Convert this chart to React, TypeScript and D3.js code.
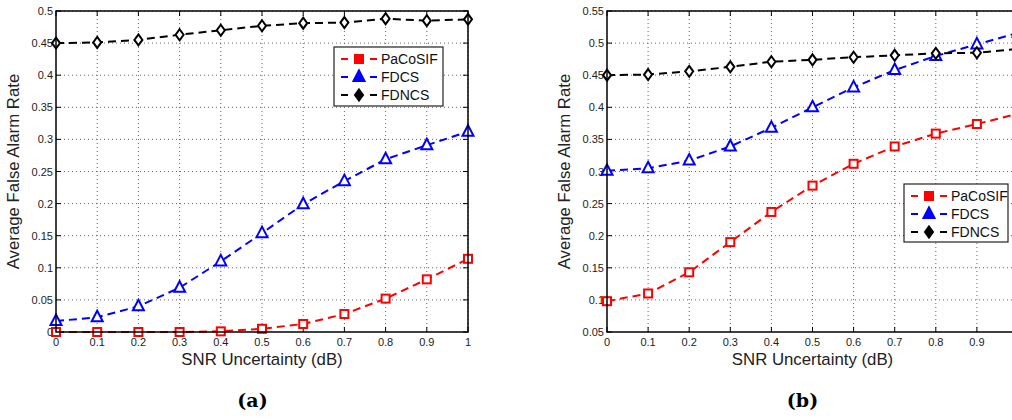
import React from 'react';
import * as d3 from 'd3';

const xValues = [0, 0.1, 0.2, 0.3, 0.4, 0.5, 0.6, 0.7, 0.8, 0.9, 1.0];

const aPaCoSIF = [0, 0, 0, 0, 0.001, 0.005, 0.0125, 0.028, 0.052, 0.082, 0.114];
const aFDCS = [0.017, 0.023, 0.04, 0.069, 0.11, 0.154, 0.199, 0.235, 0.269, 0.291, 0.312];
const aFDNCS = [0.45, 0.451, 0.455, 0.463, 0.47, 0.477, 0.481, 0.482, 0.488, 0.485, 0.487];

const bPaCoSIF = [0.098, 0.11, 0.143, 0.19, 0.237, 0.278, 0.312, 0.339, 0.359, 0.374, 0.39];
const bFDCS = [0.301, 0.305, 0.317, 0.339, 0.368, 0.4, 0.431, 0.458, 0.48, 0.498, 0.516];
const bFDNCS = [0.45, 0.451, 0.456, 0.463, 0.471, 0.474, 0.478, 0.481, 0.484, 0.485, 0.491];

const seriesNames = ['PaCoSIF', 'FDCS', 'FDNCS'];
const seriesColors = ['#ff0000', '#0000ff', '#000000'];
const seriesMarkers = ['square', 'triangle', 'diamond'];

const xTicks = [0, 0.1, 0.2, 0.3, 0.4, 0.5, 0.6, 0.7, 0.8, 0.9, 1];
const aYTicks = [0, 0.05, 0.1, 0.15, 0.2, 0.25, 0.3, 0.35, 0.4, 0.45, 0.5];
const bYTicks = [0.05, 0.1, 0.15, 0.2, 0.25, 0.3, 0.35, 0.4, 0.45, 0.5, 0.55];

const FONT = 'Liberation Sans, Arial, Helvetica, sans-serif';
const WIDTH = 1012;

function Marker({ type, x, y, color, filled }: { type: string; x: number; y: number; color: string; filled?: boolean }) {
  const fill = filled ? color : 'white';
  if (type === 'square') {
    return <rect x={x - 4} y={y - 4} width={8} height={8} fill={fill} stroke={color} strokeWidth={2} />;
  }
  if (type === 'triangle') {
    const s = 5.5;
    return <path d={`M${x},${y - s - 1}L${x + s},${y + s - 1.5}L${x - s},${y + s - 1.5}Z`} fill={fill} stroke={color} strokeWidth={2} />;
  }
  return <path d={`M${x},${y - 5.5}L${x + 4},${y}L${x},${y + 5.5}L${x - 4},${y}Z`} fill={fill} stroke={color} strokeWidth={2} />;
}

function Panel({ x0, x1, y0, y1, yDomain, yTicks, data, legend, label, labelX }: any) {
  const xs = d3.scaleLinear().domain([0, 1]).range([x0, x1]);
  const ys = d3.scaleLinear().domain(yDomain).range([y1, y0]);
  const line = d3.line<number>().x((_, i) => xs(xValues[i])).y((d) => ys(d));
  const fmt = (v: number) => String(+v.toFixed(2));
  const tickLen = 5;
  const cx = (x0 + x1) / 2;
  const cy = (y0 + y1) / 2;
  return (
    <g>
      {/* grid */}
      {xTicks.slice(1).map((t) => (
        <line key={'gx' + t} x1={xs(t)} x2={xs(t)} y1={y0} y2={y1} stroke="#666" strokeWidth={1} strokeDasharray="1,3" />
      ))}
      {yTicks.slice(1).map((t: number) => (
        <line key={'gy' + t} x1={x0} x2={x1} y1={ys(t)} y2={ys(t)} stroke="#666" strokeWidth={1} strokeDasharray="1,3" />
      ))}
      {/* ticks */}
      {xTicks.map((t) => (
        <g key={'tx' + t}>
          <line x1={xs(t)} x2={xs(t)} y1={y1} y2={y1 - tickLen} stroke="#000" />
          <line x1={xs(t)} x2={xs(t)} y1={y0} y2={y0 + tickLen} stroke="#000" />
          {xs(t) + 4 < WIDTH && (
            <text x={xs(t)} y={y1 + 14} textAnchor="middle" fontSize={11} fontFamily={FONT} fill="#222">{fmt(t)}</text>
          )}
        </g>
      ))}
      {yTicks.map((t: number) => (
        <g key={'ty' + t}>
          <line x1={x0} x2={x0 + tickLen} y1={ys(t)} y2={ys(t)} stroke="#000" />
          <line x1={x1} x2={x1 - tickLen} y1={ys(t)} y2={ys(t)} stroke="#000" />
          <text x={x0 - 3} y={ys(t) + 4} textAnchor="end" fontSize={11} fontFamily={FONT} fill="#222">{fmt(t)}</text>
        </g>
      ))}
      {/* lines */}
      {data.map((vals: number[], si: number) => (
        <g key={'s' + si}>
          <path d={line(vals) || ''} fill="none" stroke={seriesColors[si]} strokeWidth={2} strokeDasharray="8,5" />
          {vals.map((v, i) => (
            <Marker key={i} type={seriesMarkers[si]} x={xs(xValues[i])} y={ys(v)} color={seriesColors[si]} />
          ))}
        </g>
      ))}
      {/* frame */}
      <rect x={x0} y={y0} width={x1 - x0} height={y1 - y0} fill="none" stroke="#000" strokeWidth={1.5} />
      {/* legend */}
      <g>
        <rect x={legend.x} y={legend.y} width={legend.w} height={legend.h} fill="white" stroke="#222" strokeWidth={1.2} />
        {seriesNames.map((n, i) => {
          const ly = legend.y + 12 + i * 18;
          return (
            <g key={n}>
              <line x1={legend.x + 7} x2={legend.x + 14} y1={ly} y2={ly} stroke={seriesColors[i]} strokeWidth={2} />
              <line x1={legend.x + 36} x2={legend.x + 43} y1={ly} y2={ly} stroke={seriesColors[i]} strokeWidth={2} />
              <Marker type={seriesMarkers[i]} x={legend.x + 25} y={ly} color={seriesColors[i]} filled />
              <text x={legend.x + 47} y={ly + 5} fontSize={14} fontFamily={FONT} fill="#111">{n}</text>
            </g>
          );
        })}
      </g>
      {/* axis labels */}
      <text x={cx} y={y1 + 33} textAnchor="middle" fontSize={16.8} fontFamily={FONT} fill="#222">SNR Uncertainty (dB)</text>
      <text transform={`translate(${x0 - 37},${cy}) rotate(-90)`} textAnchor="middle" fontSize={16.8} fontFamily={FONT} fill="#222">Average False Alarm Rate</text>
      <text x={labelX} y={407} textAnchor="middle" fontSize={19} fontWeight="bold" fontFamily="DejaVu Serif, Liberation Serif, serif" fill="#000">{label}</text>
    </g>
  );
}

export default function App() {
  return (
    <svg width={WIDTH} height={420} style={{ position: 'absolute', left: 0, top: 0, background: 'white' }}>
      <rect width={WIDTH} height={420} fill="white" />
      <Panel x0={56} x1={468} y0={11} y1={332} yDomain={[0, 0.5]} yTicks={aYTicks}
        data={[aPaCoSIF, aFDCS, aFDNCS]} legend={{ x: 334, y: 47, w: 109, h: 59 }} label="(a)" labelX={252.5} />
      <Panel x0={607} x1={1018} y0={11} y1={332} yDomain={[0.05, 0.55]} yTicks={bYTicks}
        data={[bPaCoSIF, bFDCS, bFDNCS]} legend={{ x: 904, y: 184, w: 104, h: 58 }} label="(b)" labelX={802.5} />
    </svg>
  );
}
